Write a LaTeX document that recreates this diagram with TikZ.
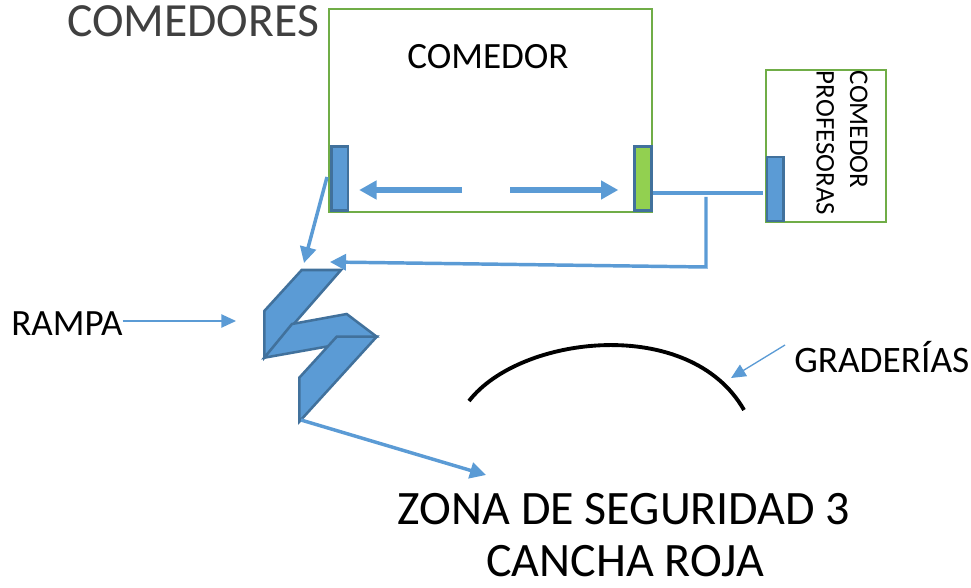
\documentclass[tikz,border=0pt]{standalone}
\usepackage{fontspec}
\setmainfont{Carlito}
\usepackage{tikz}
\usetikzlibrary{arrows.meta,calc}
\definecolor{azul}{HTML}{5B9BD5}
\definecolor{azulborde}{HTML}{41719C}
\definecolor{verde}{HTML}{70AD47}
\definecolor{verdeclaro}{HTML}{92D050}

\begin{document}
\begin{tikzpicture}[
    x=0.75pt,y=-0.75pt,
    sala/.style={draw=verde,line width=2.2pt},
    puerta/.style={rectangle,draw=azulborde,line width=2pt,fill=azul,inner sep=0pt,minimum width=12.5pt,minimum height=48pt},
    tramo/.style={draw=azulborde,line width=1.9pt,fill=azul,line join=miter},
    linea/.style={draw=azul,line width=2.6pt},
    flecha/.style={linea,-{Triangle[length=12pt,width=12pt]}},
    flechagruesa/.style={draw=azul,line width=4pt,-{Triangle[length=13pt,width=13.5pt]}},
    flechafina/.style={draw=azul,line width=1pt,-{Triangle[length=11pt,width=10pt]}},
    texto/.style={inner sep=0pt,font=\fontsize{#1}{#1}\selectfont}
]
    \useasboundingbox (0,0) rectangle (971,588);

    % Rooms
    \draw[sala] (329,9) rectangle (652,212);
    \draw[sala] (766,70) rectangle (886,222);

    % Doors
    \node[puerta] (puertaizq) at (339.5,178.5) {};
    \node[puerta,fill=verdeclaro] (puertader) at (643,178.5) {};
    \node[puerta] (puertaprof) at (775.2,189) {};

    % Ramp
    \draw[tramo] (301.7,270) -- (341,270) -- (264.3,357.7) -- (264.3,311) -- cycle;
    \draw[tramo] (264.3,357.7) -- (292,324) -- (346.7,314) -- (376.7,336.7) -- (330,346) -- cycle;
    \draw[tramo] (336.7,336.7) -- (376.7,336.7) -- (299.3,421.7) -- (299.3,377.7) -- cycle;
    \coordinate (rampasur) at (301,420);

    % Labels
    \node[texto=35.7,text=black!75,anchor=west] (comedores) at (67,21) {COMEDORES};
    \node[texto=27.8] (comedor) at (488,57) {COMEDOR};
    \node[texto=20.2,rotate=-90,align=left] (profesoras) at (842,143) {COMEDOR\\[5pt]PROFESORAS};
    \node[texto=27.8,anchor=west] (rampa) at (11,324) {RAMPA};
    \node[texto=28,anchor=west] (graderias) at (794,357) {GRADERÍAS};
    \node[texto=36] (zona) at (624,509) {ZONA DE SEGURIDAD 3};
    \node[texto=36] (cancha) at (625,561) {CANCHA ROJA};

    % Free ends
    \coordinate (centroizq) at (462,190);
    \coordinate (centroder) at (510,190);
    \coordinate (junta) at (706,193);
    \coordinate (codo) at (706,267);
    \coordinate (ramal) at (706,197);
    \coordinate (bajada) at (327,177);

    % Edges
    \draw[flechagruesa] (centroizq) -- ($(puertaizq.east |- centroizq)+(10,0)$);
    \draw[flechagruesa] (centroder) -- ($(puertader.west |- centroder)+(-15,0)$);
    \draw[linea] (puertader.east |- junta) -- ($(puertaprof.west |- junta)+(-3,0)$);
    \draw[flecha] (ramal) -- (codo) -- (330,262);
    \draw[flecha] (bajada) -- (304,263);
    \draw[flecha] (rampasur) -- (486,475);
    \draw[flechafina] ($(rampa.east)+(0,-3)$) -- (236,321);
    \draw[flechafina] (785,345) -- (731,378);

    % Stands
    \draw[black,line width=2.9pt] (469,401) .. controls (520,335) and (690,315) .. (744,410);
\end{tikzpicture}
\end{document}
